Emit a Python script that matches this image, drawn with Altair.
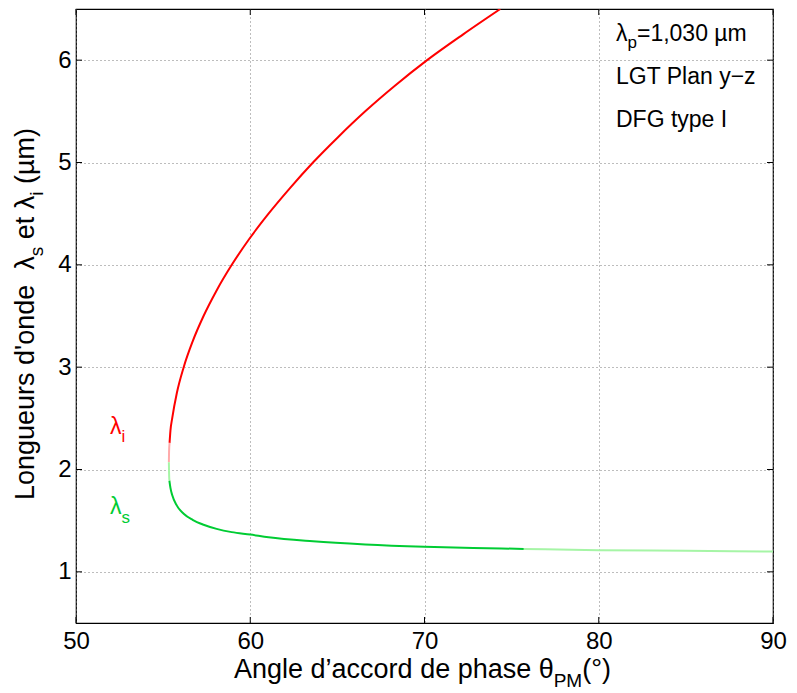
import altair as alt
import pandas as pd

# ---------------- data ----------------
red_dark_theta = [55.37, 55.42, 55.52, 55.79, 56.18, 56.69, 57.32, 58.07, 58.94, 59.93,
                  61.05, 62.28, 63.60, 65.05, 66.60, 68.30, 70.15, 72.20, 74.35]
red_dark_lambda = [2.26, 2.38, 2.50, 2.75, 3.00, 3.25, 3.50, 3.75, 4.00, 4.25,
                   4.50, 4.75, 5.00, 5.25, 5.50, 5.75, 6.00, 6.25, 6.50]

red_light_theta = [55.33, 55.34, 55.37]
red_light_lambda = [2.07, 2.17, 2.26]

green_light_theta = [55.33, 55.34, 55.36]
green_light_lambda = [2.07, 1.97, 1.89]

green_dark_theta = [55.36, 55.42, 55.52, 55.79, 56.18, 56.69, 57.32, 58.07, 58.94, 60.00,
                    61.05, 63.60, 66.60, 70.00, 72.80, 75.70]
green_dark_lambda = [1.89, 1.82, 1.75, 1.647, 1.568, 1.508, 1.460, 1.420, 1.388, 1.364,
                     1.337, 1.298, 1.268, 1.246, 1.234, 1.224]

green_tail_theta = [75.70, 80.00, 85.00, 90.00]
green_tail_lambda = [1.224, 1.212, 1.205, 1.199]

seg_names = ["rouge", "rouge clair", "vert clair", "vert", "vert queue"]
seg_colors = ["#ff0000", "#ffaaaa", "#a6f5a6", "#00cc33", "#a6f5a6"]

x_ticks = [50, 60, 70, 80, 90]
y_ticks = [1, 2, 3, 4, 5, 6]

segs = [
    ("rouge", red_dark_theta, red_dark_lambda),
    ("rouge clair", red_light_theta, red_light_lambda),
    ("vert clair", green_light_theta, green_light_lambda),
    ("vert", green_dark_theta, green_dark_lambda),
    ("vert queue", green_tail_theta, green_tail_lambda),
]
rows = []
for name, th, lam in segs:
    for i, (t, l) in enumerate(zip(th, lam)):
        rows.append({"seg": name, "theta": t, "lam": l, "i": i})
df = pd.DataFrame(rows)

# ---------------- layout ----------------
W, H = 697, 614
FONT = "Liberation Sans"
TICK_FS = 24
TITLE_FS = 27
SUB_FS = 19
ANN_FS = 23
ANN_SUB = 17

AW = {'A': 667, 'D': 722, 'F': 611, 'G': 778, 'I': 278, 'L': 556, 'M': 833, 'P': 667, 'T': 611,
      'a': 556, 'c': 500, 'd': 556, 'e': 556, 'g': 556, 'h': 556, 'i': 222, 'l': 222, 'm': 833,
      'n': 556, 'o': 556, 'p': 556, 'r': 333, 's': 500, 't': 278, 'u': 556, 'y': 500, 'z': 500,
      ' ': 278, "'": 191, '’': 222, '(': 333, ')': 333, '°': 400, 'µ': 576, 'λ': 500, 'θ': 556,
      '=': 584, ',': 278, '−': 584}
for d in "0123456789":
    AW[d] = 556


def tw(s, fs):
    return sum(AW.get(c, 556) for c in s) * fs / 1000.0


xs = alt.Scale(domain=[50, 90], nice=False, zero=False)
ys = alt.Scale(domain=[0.5, 6.5], nice=False, zero=False)

X_AXIS = alt.Axis(values=x_ticks, title=None, grid=True, ticks=False, domain=False,
                  labelFontSize=TICK_FS, labelPadding=6, labelColor="black",
                  labelFont=FONT, format="d", labelFlush=False)
Y_AXIS = alt.Axis(values=y_ticks, title=None, grid=True, ticks=False, domain=False,
                  labelFontSize=TICK_FS, labelPadding=5, labelColor="black",
                  labelFont=FONT, format="d", labelFlush=False)

lines = alt.Chart(df).mark_line(strokeWidth=2, clip=True, interpolate="monotone").encode(
    x=alt.X("theta:Q", scale=xs, axis=X_AXIS),
    y=alt.Y("lam:Q", scale=ys, axis=Y_AXIS),
    color=alt.Color("seg:N", scale=alt.Scale(domain=seg_names, range=seg_colors), legend=None),
    detail="seg:N",
    order="i:Q",
)

xt = pd.DataFrame({"theta": x_ticks})
yt = pd.DataFrame({"lam": y_ticks})
TL = 6
tick_layers = [
    alt.Chart(xt).mark_rule(color="black", strokeWidth=1).encode(
        x=alt.X("theta:Q", scale=xs, axis=X_AXIS), y=alt.value(H), y2=alt.value(H - TL)),
    alt.Chart(xt).mark_rule(color="black", strokeWidth=1).encode(
        x=alt.X("theta:Q", scale=xs, axis=X_AXIS), y=alt.value(0), y2=alt.value(TL)),
    alt.Chart(yt).mark_rule(color="black", strokeWidth=1).encode(
        y=alt.Y("lam:Q", scale=ys, axis=Y_AXIS), x=alt.value(0), x2=alt.value(TL)),
    alt.Chart(yt).mark_rule(color="black", strokeWidth=1).encode(
        y=alt.Y("lam:Q", scale=ys, axis=Y_AXIS), x=alt.value(W - TL), x2=alt.value(W)),
]


def txt(s, x, y, fs, color="black", angle=0):
    return alt.Chart(pd.DataFrame({"t": [s]})).mark_text(
        align="left", baseline="alphabetic", font=FONT, fontSize=fs, color=color, angle=angle
    ).encode(x=alt.value(x), y=alt.value(y), text="t:N")


texts = []

# x title: "Angle d’accord de phase θ" + "PM" + "(°)"
xa = "Angle d’accord de phase θ"
xb = "PM"
xc = "(°)"
total = tw(xa, TITLE_FS) + tw(xb, SUB_FS) + tw(xc, TITLE_FS)
x0 = W / 2 - 2 - total / 2
xbase = 669
texts.append(txt(xa, x0, xbase, TITLE_FS))
x1 = x0 + tw(xa, TITLE_FS)
texts.append(txt(xb, x1, xbase + 9, SUB_FS))
x2 = x1 + tw(xb, SUB_FS)
texts.append(txt(xc, x2, xbase, TITLE_FS))

# y title (rotated): pieces placed one after another (spaces handled by offsets)
SP = tw(" ", TITLE_FS)
y_pieces = [
    ("Longueurs d'onde", TITLE_FS, 0, 2 * SP),
    ("λ", TITLE_FS, 0, 0),
    ("s", SUB_FS, 9, SP),
    ("et", TITLE_FS, 0, SP),
    ("λ", TITLE_FS, 0, 0),
    ("i", SUB_FS, 9, SP),
    ("(µm)", TITLE_FS, 0, 0),
]
ytot = sum(tw(s, f) + gap for s, f, _, gap in y_pieces)
ybase_x = -42
p = H / 2 + ytot / 2 - 2
for s, f, off, gap in y_pieces:
    texts.append(txt(s, ybase_x + off, p, f, angle=270))
    p -= tw(s, f) + gap

# annotations, top right
ax = 540
texts.append(txt("λ", ax, 32, ANN_FS))
texts.append(txt("p", ax + tw("λ", ANN_FS), 39, ANN_SUB))
texts.append(txt("=1,030 µm", ax + tw("λ", ANN_FS) + tw("p", ANN_SUB), 32, ANN_FS))
texts.append(txt("LGT Plan y−z", ax, 75, ANN_FS))
texts.append(txt("DFG type I", ax, 118, ANN_FS))

# curve labels
lx = 34
texts.append(txt("λ", lx, 425, ANN_FS, color="#ff0000"))
texts.append(txt("i", lx + tw("λ", ANN_FS), 433, ANN_SUB, color="#ff0000"))
texts.append(txt("λ", lx, 505, ANN_FS, color="#00cc33"))
texts.append(txt("s", lx + tw("λ", ANN_FS), 514, ANN_SUB, color="#00cc33"))

chart = alt.layer(lines, *tick_layers, *texts).properties(
    width=W, height=H,
    padding={"left": 68, "top": 1, "right": 16, "bottom": 70},
    autosize=alt.AutoSizeParams(type="none"),
    background="white",
).configure_view(
    stroke="black", strokeWidth=1.2
).configure_axis(
    gridColor="#7a7a7a", gridDash=[1, 3], gridWidth=1, gridOpacity=1
)

chart.save("out.html", embed_options={"renderer": "svg", "actions": False})
